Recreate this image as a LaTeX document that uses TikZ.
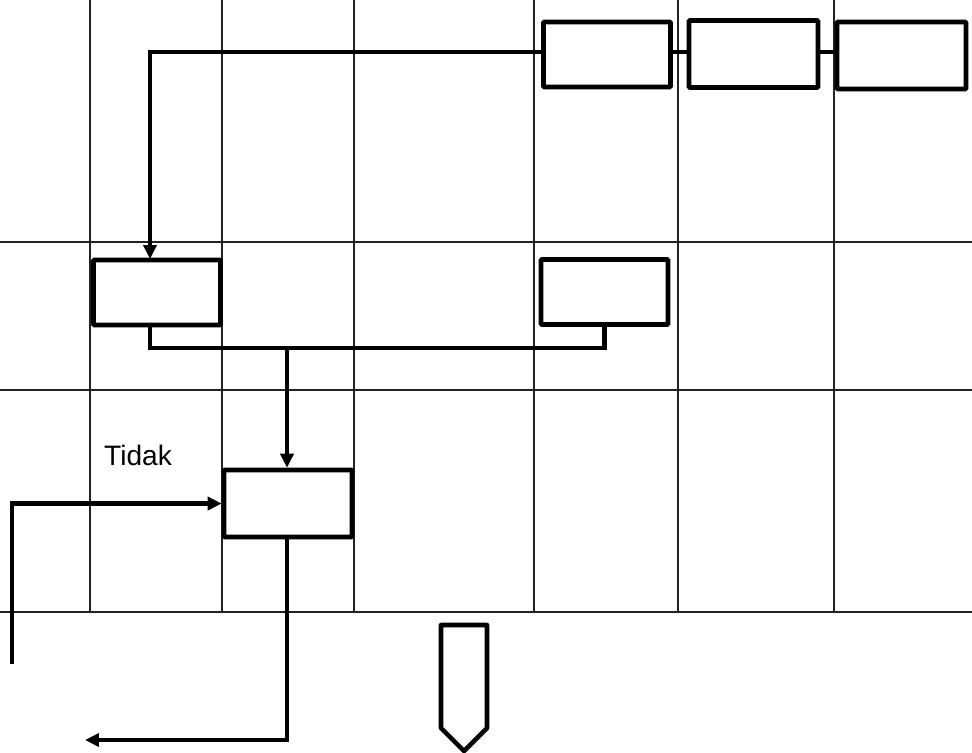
\documentclass[tikz,border=0pt]{standalone}
\usepackage{fontspec}
\setmainfont{Liberation Sans}
\usepackage{tikz}
\usetikzlibrary{positioning,arrows.meta}
\definecolor{ink}{HTML}{000000}
\definecolor{rule}{HTML}{222222}

\tikzset{
  grid/.style={draw=rule,line width=0.6pt},
  procbox/.style={draw=ink,line width=2.6pt,rounded corners=0.5pt,fill=white,
    minimum width=2.54cm,minimum height=1.3cm,inner sep=0pt},
  flow/.style={draw=ink,line width=2.6pt},
  flowarrow/.style={flow,-{Triangle[length=0.28cm,width=0.26cm]}},
}

\begin{document}
\begin{tikzpicture}[x=0.02cm,y=-0.02cm,font=\fontsize{16}{19}\selectfont]
      \useasboundingbox (0,0) rectangle (972,752);
      % table lines
      \foreach \x in {90,222,354,534,678,834}{
        \draw[grid] (\x,0) -- (\x,612);}
      \foreach \y in {242,390,612}{
        \draw[grid] (0,\y) -- (972,\y);}
      % boxes
      \node[procbox] (input)   at (607,54.5)  {};
      \node[procbox,minimum width=2.58cm,minimum height=1.34cm] (proses)  at (753.5,54) {};
      \node[procbox,minimum width=2.58cm,minimum height=1.34cm] (arsip)   at (901.5,55.5) {};
      \node[procbox] (terima)  at (157,292.5) {};
      \node[procbox] (catat)   at (604.5,292) {};
      \node[procbox,minimum width=2.56cm,minimum height=1.34cm] (periksa) at (288,503.5) {};
      \node (tidak) at (138,455) {Tidak};
      % connectors
      \coordinate (turn) at (150,52);
      \coordinate (into) at (150,259);
      \coordinate (join) at (287,348);
      \coordinate (balik) at (12,664);
      \coordinate (keluar) at (85,740);
      \draw[flow] (input.east |- turn) -- (proses.west |- turn);
      \draw[flow] (proses.east |- turn) -- (arsip.west |- turn);
      \draw[flowarrow] (input.west |- turn) -- (turn) -- (into);
      \draw[flow] (terima.south -| into) |- (join) -| (catat.south);
      \draw[flowarrow] (join) -- (periksa.north -| join);
      \draw[flowarrow] (balik) |- (periksa.west);
      \draw[flowarrow] (periksa.south -| join) |- (keluar);
      % off-page connector
      \draw[flow,line join=round] (441,625) -- (487,625) -- (487,728) -- (464,751)
        -- (441,728) -- cycle;
    \end{tikzpicture}
\end{document}
